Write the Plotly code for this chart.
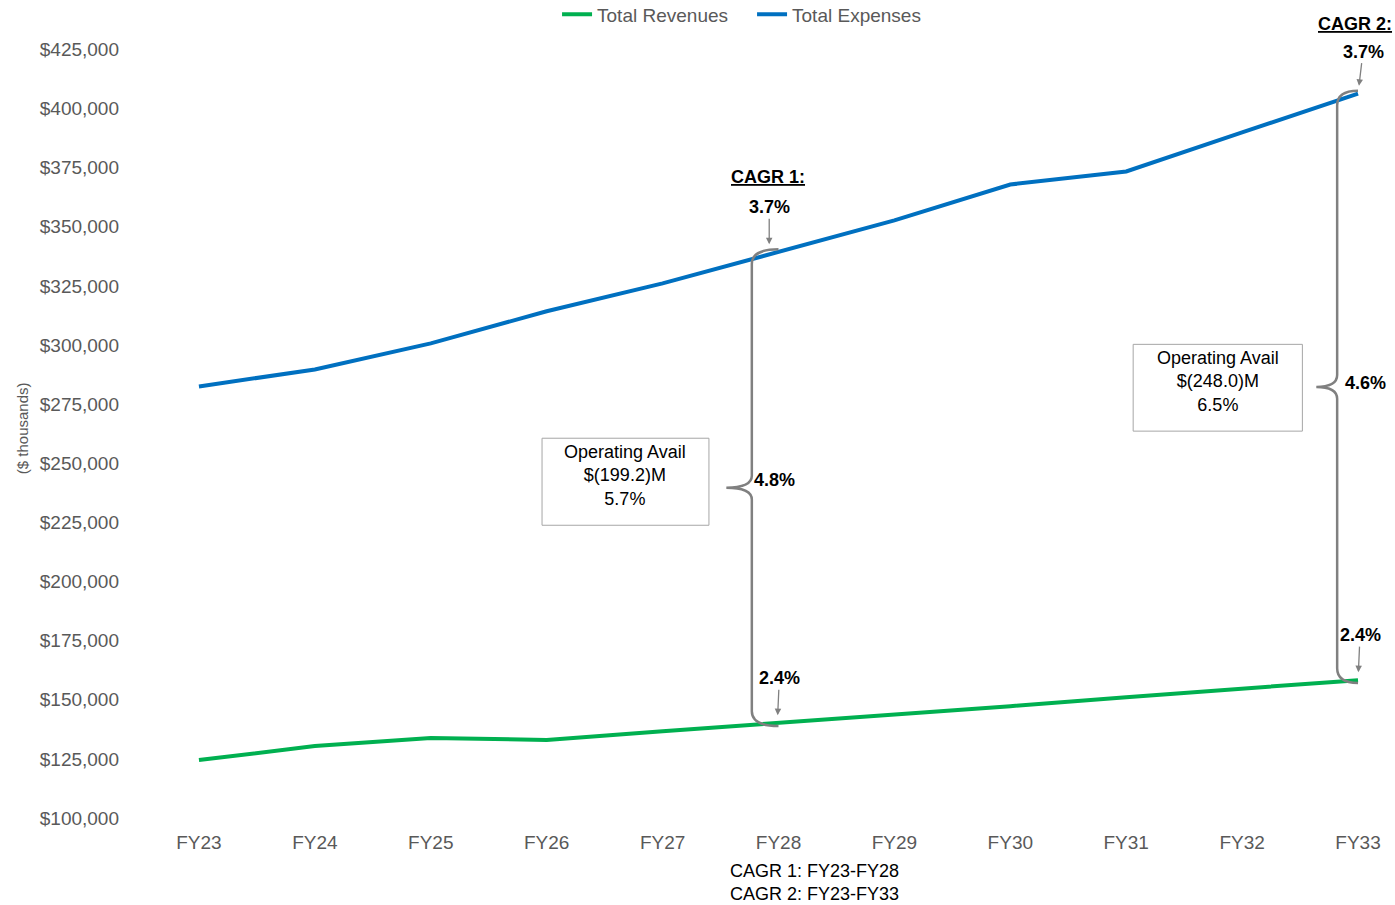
import plotly.graph_objects as go

years = ["FY23", "FY24", "FY25", "FY26", "FY27", "FY28", "FY29", "FY30", "FY31", "FY32", "FY33"]
revenues = [124500, 130400, 133800, 133000, 136700, 140100, 143900, 147300, 151100, 154600, 158300]
expenses = [282500, 289700, 300700, 314300, 326100, 339300, 352700, 367900, 373400, 389900, 406300]
y_ticks = [100000, 125000, 150000, 175000, 200000, 225000, 250000, 275000,
           300000, 325000, 350000, 375000, 400000, 425000]

cagr1_idx, cagr2_idx = 5, 10
cagr1_rev, cagr1_exp, cagr1_gap = "2.4%", "3.7%", "4.8%"
cagr2_rev, cagr2_exp, cagr2_gap = "2.4%", "3.7%", "4.6%"
box1_lines = ["Operating Avail", "$(199.2)M", "5.7%"]
box2_lines = ["Operating Avail", "$(248.0)M", "6.5%"]

FONT = "Arial, Liberation Sans, sans-serif"
GREEN = "#00B050"
BLUE = "#0070C0"
GREY = "#808080"
AXIS_TEXT = "#595959"

fig = go.Figure()
fig.add_trace(go.Scatter(x=list(range(len(years))), y=revenues, name="Total Revenues",
                         mode="lines", line=dict(color=GREEN, width=4)))
fig.add_trace(go.Scatter(x=list(range(len(years))), y=expenses, name="Total Expenses",
                         mode="lines", line=dict(color=BLUE, width=4)))


def brace_path(idx, top, bottom, dx=0.23, tip=0.22, hook=0.0, r=5000):
    """Curly brace drawn left of category idx, spanning bottom..top."""
    xv = idx - dx
    xt = xv - tip
    xe = idx + hook
    mid = (top + bottom) / 2
    return (f"M {xe},{top + 1200} Q {xv},{top + 1200} {xv},{top - r} "
            f"L {xv},{mid + r} Q {xv},{mid} {xt},{mid} "
            f"Q {xv},{mid} {xv},{mid - r} "
            f"L {xv},{bottom + r} Q {xv},{bottom - 1200} {xe},{bottom - 1200}")


shapes = [
    dict(type="path", path=brace_path(cagr1_idx, expenses[cagr1_idx], revenues[cagr1_idx]),
         line=dict(color=GREY, width=2.5)),
    dict(type="path", path=brace_path(cagr2_idx, expenses[cagr2_idx], revenues[cagr2_idx],
                                      dx=0.18, tip=0.18, hook=0.0),
         line=dict(color=GREY, width=2.5)),
    # text boxes
    dict(type="rect", x0=2.96, x1=4.4, y0=223800, y1=260600,
         line=dict(color="#A6A6A6", width=1), fillcolor="white"),
    dict(type="rect", x0=8.06, x1=9.52, y0=263600, y1=300300,
         line=dict(color="#A6A6A6", width=1), fillcolor="white"),
]

annotations = []


def arrow_label(x, y, text, ax=0, ay=-36):
    annotations.append(dict(x=x, y=y, text=f"<b>{text}</b>", showarrow=True,
                            arrowhead=2, arrowsize=1, arrowwidth=1.3, arrowcolor=GREY,
                            ax=ax, ay=ay, standoff=8,
                            font=dict(family=FONT, size=18, color="black")))


arrow_label(cagr1_idx - 0.08, expenses[cagr1_idx], cagr1_exp, ay=-45)
arrow_label(cagr1_idx - 0.01, revenues[cagr1_idx], cagr1_rev, ax=2, ay=-45)
arrow_label(cagr2_idx, expenses[cagr2_idx], cagr2_exp, ax=5, ay=-42)
arrow_label(cagr2_idx, revenues[cagr2_idx], cagr2_rev, ax=2, ay=-45)

annotations += [
    dict(x=cagr1_idx - 0.09, y=expenses[cagr1_idx], yshift=75, text="<b><u>CAGR 1:</u></b>",
         showarrow=False, font=dict(family=FONT, size=18, color="black")),
    dict(x=cagr2_idx - 0.03, y=expenses[cagr2_idx], yshift=70, text="<b><u>CAGR 2:</u></b>",
         showarrow=False, font=dict(family=FONT, size=18, color="black")),
    dict(x=cagr1_idx - 0.23, y=(expenses[cagr1_idx] + revenues[cagr1_idx]) / 2, yshift=8,
         xanchor="left", text=f"<b>{cagr1_gap}</b>", showarrow=False,
         font=dict(family=FONT, size=18, color="black")),
    dict(x=cagr2_idx - 0.18, y=(expenses[cagr2_idx] + revenues[cagr2_idx]) / 2, yshift=4,
         xshift=6, xanchor="left", text=f"<b>{cagr2_gap}</b>", showarrow=False,
         font=dict(family=FONT, size=18, color="black")),
    dict(x=3.68, y=245000, text="<br>".join(box1_lines), showarrow=False,
         font=dict(family=FONT, size=18, color="black")),
    dict(x=8.79, y=284700, text="<br>".join(box2_lines), showarrow=False,
         font=dict(family=FONT, size=18, color="black")),
    dict(x=5.31, y=-0.0515, xref="x", yref="paper", text="CAGR 1: FY23-FY28<br>CAGR 2: FY23-FY33",
         showarrow=False, yanchor="top", font=dict(family=FONT, size=18, color="black")),
    # y-axis title
    dict(x=-0.081, y=0.485, xref="paper", yref="paper", xanchor="center", yanchor="middle",
         text="($ thousands)", textangle=-90,
         showarrow=False, font=dict(family=FONT, size=15, color=AXIS_TEXT)),
]

fig.update_layout(
    width=1395, height=905,
    margin=dict(l=125, r=0, t=13.5, b=87, autoexpand=False),
    paper_bgcolor="white", plot_bgcolor="white",
    font=dict(family=FONT, size=19, color=AXIS_TEXT),
    shapes=shapes,
    annotations=annotations,
    showlegend=True,
    legend=dict(orientation="h", x=0.3402, xanchor="left", y=0.9994, yanchor="middle",
                font=dict(family=FONT, size=19, color=AXIS_TEXT),
                bgcolor="rgba(0,0,0,0)", itemwidth=30, tracegroupgap=0,
                entrywidth=150, entrywidthmode="pixels"),
    xaxis=dict(range=[-0.638, 10.319], tickmode="array", tickvals=list(range(len(years))),
               ticktext=years, showgrid=False, zeroline=False, showline=False,
               tickfont=dict(color=AXIS_TEXT, size=19), ticks="", ticklabelstandoff=11),
    yaxis=dict(range=[100000, 440000], tickmode="array", tickvals=y_ticks,
               ticktext=[f"${v:,.0f}" for v in y_ticks], showgrid=False, zeroline=False,
               showline=False, tickfont=dict(color=AXIS_TEXT, size=19), ticklabelstandoff=5),
)

fig.write_html("out.html")
